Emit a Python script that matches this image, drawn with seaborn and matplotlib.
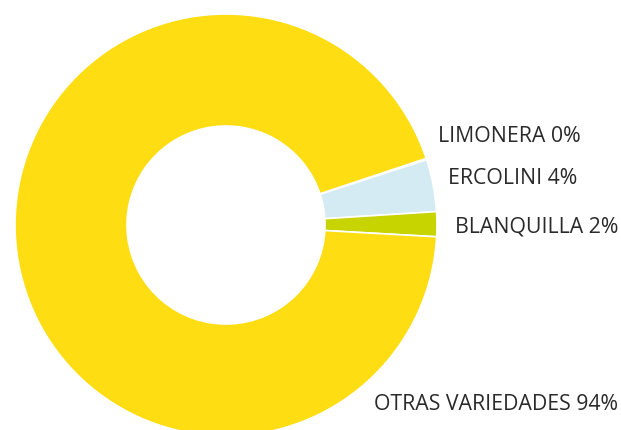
import matplotlib
matplotlib.use("Agg")
import matplotlib.pyplot as plt
import seaborn as sns

sns.set_style("white")
plt.rcParams["font.family"] = ["Open Sans", "DejaVu Sans"]

# data (percent)
varieties = ["LIMONERA", "ERCOLINI", "BLANQUILLA", "OTRAS VARIEDADES"]
shares = [0.1, 4.0, 1.9, 94.0]
shown_pct = [0, 4, 2, 94]
colors = ["#D5EBF3", "#D5EBF3", "#C8D400", "#FEDD12"]

W, H = 621, 430
fig = plt.figure(figsize=(W / 100, H / 100), dpi=100)

# donut centred at (226, 225) px, outer radius 211 px, hole radius 99 px
cx, cy, r_out, r_in = 226, 225, 211, 99
ax = fig.add_axes([(cx - r_out) / W, (H - cy - r_out) / H, 2 * r_out / W, 2 * r_out / H])
ax.pie(shares, colors=colors, startangle=18.4, counterclock=False, radius=1,
       wedgeprops=dict(width=1 - r_in / r_out, edgecolor="white", linewidth=1.2))
ax.set_xlim(-1, 1)
ax.set_ylim(-1, 1)
ax.set_aspect("equal")
ax.axis("off")

label_pos = [(438, 137), (448, 179), (455, 227), (374, 405)]
for name, pct, (x, y) in zip(varieties, shown_pct, label_pos):
    fig.text(x / W, 1 - y / H, f"{name} {pct}%", ha="left", va="center",
             fontsize=15.3, color="#2a2a2a", fontweight="medium")

fig.savefig("out.png", dpi=100)
